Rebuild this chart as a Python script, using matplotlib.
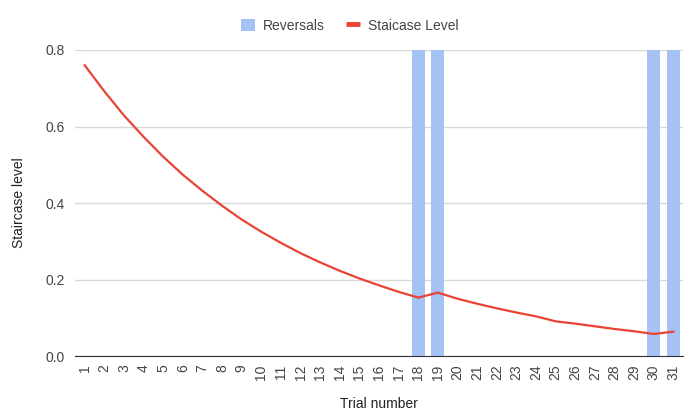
import numpy as np
import matplotlib
matplotlib.use("Agg")
import matplotlib.pyplot as plt
from matplotlib.lines import Line2D

plt.rcParams['font.family'] = ['Liberation Sans', 'DejaVu Sans']

# Données
essais = list(range(1, 32))
niveau = [0.760, 0.692, 0.629, 0.573, 0.521, 0.474, 0.432, 0.393, 0.357, 0.325,
          0.296, 0.269, 0.245, 0.223, 0.203, 0.185, 0.168, 0.153, 0.166, 0.150,
          0.137, 0.125, 0.114, 0.104, 0.091, 0.085, 0.078, 0.071, 0.065, 0.058,
          0.064]
inversions = {18: 0.8, 19: 0.8, 30: 0.8, 31: 0.8}

fig = plt.figure(figsize=(7, 4.2), dpi=100)
ax = fig.add_axes([0.107, 0.152, 0.869, 0.729])

pos = np.arange(len(essais))
hauteurs = [inversions.get(e, 0) for e in essais]
barres = ax.bar(pos, hauteurs, width=0.66, color="#a4c2f4", label="Reversals", zorder=2)
ax.plot(pos, niveau, color="#ea4335", lw=1.6, zorder=3)

ax.set_xlim(-0.5, len(essais) - 0.5)
ax.set_ylim(0, 0.8)
ax.set_yticks([0, 0.2, 0.4, 0.6, 0.8])
ax.set_yticklabels(["0.0", "0.2", "0.4", "0.6", "0.8"])
ax.set_xticks(pos)
ax.set_xticklabels([str(e) for e in essais], rotation=90)
ax.tick_params(axis="both", length=0, labelsize=10, colors="#444444")
ax.tick_params(axis="x", pad=6)
ax.tick_params(axis="y", pad=7)
ax.grid(axis="y", color="#d9d9d9", lw=1, zorder=0)
for s in ["top", "right", "left"]:
    ax.spines[s].set_visible(False)
ax.spines["bottom"].set_color("#333333")
ax.spines["bottom"].set_zorder(4)

ax.set_xlabel("Trial number", fontsize=10, color="#222222", labelpad=12)
ax.set_ylabel("Staircase level", fontsize=10, color="#222222", labelpad=14)

ligne_leg = Line2D([], [], color="#ea4335", lw=3.5, solid_capstyle="butt")
leg = fig.legend([barres, ligne_leg], ["Reversals", "Staicase Level"],
                 loc="upper center", bbox_to_anchor=(0.5, 0.985), ncol=2,
                 frameon=False, fontsize=10, handlelength=1.0, handleheight=1.0,
                 columnspacing=1.5, handletextpad=0.6)
for t in leg.get_texts():
    t.set_color("#444444")

fig.savefig("out.png", dpi=100)
